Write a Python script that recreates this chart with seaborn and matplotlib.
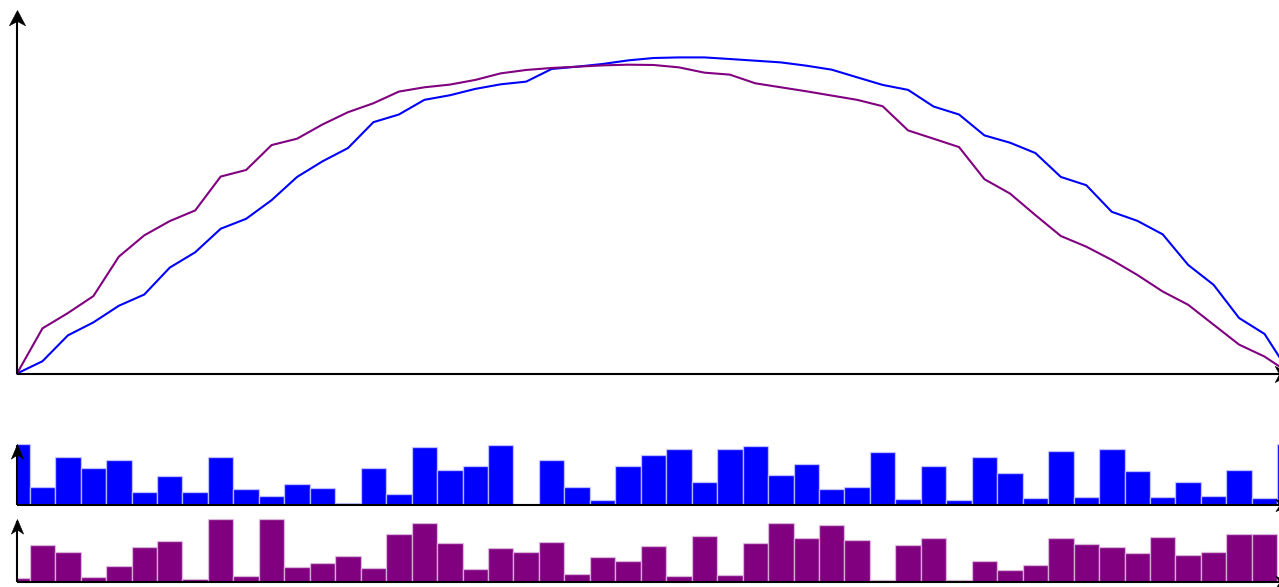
import matplotlib
matplotlib.use("Agg")
import matplotlib.pyplot as plt
from matplotlib.path import Path
import seaborn as sns
import numpy as np
import pandas as pd

# x positions shared by all three panels
steps = list(range(51))

# top panel: two curves
blue_curve = [0, 12.3, 38.3, 51.3, 68, 79.3, 106.3, 121.7, 145.3, 155.3,
              174, 197.3, 213, 226.3, 252.3, 260, 274.7, 279.3, 285.7, 290.3,
              293, 305.7, 308, 310.7, 314.3, 316.7, 317.3, 317.3, 315.7, 314,
              312.3, 309, 305, 297.3, 289.7, 284.7, 268, 260, 239, 231.7,
              221.3, 197.3, 189, 162.3, 153.3, 139.7, 109, 89, 55.7, 39.7, 0]
purple_curve = [0, 45.3, 60.7, 77.7, 117.3, 138.7, 153, 163.7, 197.7, 204.3,
                229.3, 235.7, 250, 262.3, 271.3, 283, 287.3, 290, 294.7, 301.3,
                304.7, 306.7, 308, 309.3, 310, 309.7, 307.3, 302, 300, 291.3,
                287.3, 283.3, 279, 274.7, 268.3, 244, 235.7, 227.3, 195, 180.7,
                159, 138, 127.3, 114, 99, 82.3, 69, 49, 29, 17, 0]

# bottom panels: bars
blue_bars = [1.0, 0.298, 0.777, 0.606, 0.739, 0.207, 0.479, 0.213, 0.777, 0.261,
             0.154, 0.346, 0.282, 0.032, 0.606, 0.181, 0.941, 0.564, 0.628, 0.968,
             0.021, 0.734, 0.298, 0.08, 0.633, 0.812, 0.909, 0.371, 0.903, 0.957,
             0.489, 0.667, 0.258, 0.296, 0.855, 0.097, 0.629, 0.081, 0.785, 0.516,
             0.118, 0.876, 0.124, 0.903, 0.554, 0.129, 0.371, 0.14, 0.565, 0.113, 1.0]
purple_bars = [0.063, 0.589, 0.468, 0.068, 0.253, 0.547, 0.653, 0.037, 1.0, 0.095,
               1.0, 0.226, 0.295, 0.416, 0.21, 0.758, 0.937, 0.616, 0.2, 0.542,
               0.479, 0.637, 0.116, 0.389, 0.326, 0.568, 0.089, 0.721, 0.105, 0.621,
               0.937, 0.689, 0.9, 0.663, 0.026, 0.579, 0.689, 0.021, 0.326, 0.184,
               0.258, 0.689, 0.595, 0.553, 0.463, 0.716, 0.426, 0.474, 0.753, 0.758, 0.02]

BLUE = "#0000ff"
PURPLE = "#800080"

sns.set_style("white")

W, H = 1279, 587
fig = plt.figure(figsize=(W / 100, H / 100), dpi=100)


def head(spread, angle):
    # notched arrow head, tip on the marker origin, pointing up, then rotated
    pts = np.array([(0, 0), (-spread, -1), (0, -0.72), (spread, -1), (0, 0)])
    c, s = np.cos(angle), np.sin(angle)
    pts = pts @ np.array([[c, s], [-s, c]])
    return Path(pts, [Path.MOVETO, Path.LINETO, Path.LINETO, Path.LINETO, Path.CLOSEPOLY])


def px_axes(left, top, right, bottom):
    # axes rectangle given in pixel coordinates (origin top-left)
    return fig.add_axes([left / W, (H - bottom) / H, (right - left) / W, (bottom - top) / H])


def arrow_axes(ax, size, spread):
    for s in ax.spines.values():
        s.set_visible(False)
    ax.set_xticks([])
    ax.set_yticks([])
    ax.set_xlabel("")
    ax.set_ylabel("")
    t = ax.transAxes
    ax.plot([0, 0], [0, 0.97], color="black", lw=1.5, transform=t, clip_on=False,
            solid_capstyle="butt")
    ax.plot([0, 1], [0, 0], color="black", lw=1.5, transform=t, clip_on=False,
            solid_capstyle="butt")
    ax.plot([0], [1], marker=head(spread, 0), ms=size, color="black", mew=0.4,
            transform=t, clip_on=False)
    ax.plot([1], [0], marker=head(spread, -np.pi / 2), ms=size, color="black",
            mew=0.4, transform=t, clip_on=False)
    ax.patch.set_alpha(0)


x_right = 17 + 50 * 25.46

# top line chart
ax1 = px_axes(17, 10, x_right, 373.5)
lines = pd.DataFrame({"x": steps * 2,
                      "y": blue_curve + purple_curve,
                      "s": ["blue"] * 51 + ["purple"] * 51})
sns.lineplot(data=lines, x="x", y="y", hue="s", palette=[BLUE, PURPLE],
             linewidth=1.5, legend=False, ax=ax1, clip_on=False)
ax1.set_xlim(0, 50)
ax1.set_ylim(0, max(max(blue_curve), max(purple_curve)) * 1.15)
arrow_axes(ax1, size=22, spread=0.53)

# blue bars
ax2 = px_axes(17, 443.5, x_right, 505)
sns.barplot(x=steps, y=blue_bars, color=BLUE, saturation=1, width=1,
            edgecolor=(0.85, 0.85, 1, 0.7), linewidth=1, ax=ax2)
ax2.set_xlim(0, 50)
ax2.set_ylim(0, max(blue_bars))
arrow_axes(ax2, size=21, spread=0.42)

# purple bars
ax3 = px_axes(17, 519, x_right, 581.5)
sns.barplot(x=steps, y=purple_bars, color=PURPLE, saturation=1, width=1,
            edgecolor=(0.9, 0.8, 0.9, 0.7), linewidth=1, ax=ax3)
ax3.set_xlim(0, 50)
ax3.set_ylim(0, max(purple_bars))
arrow_axes(ax3, size=21, spread=0.42)

fig.savefig("out.png", dpi=100)
